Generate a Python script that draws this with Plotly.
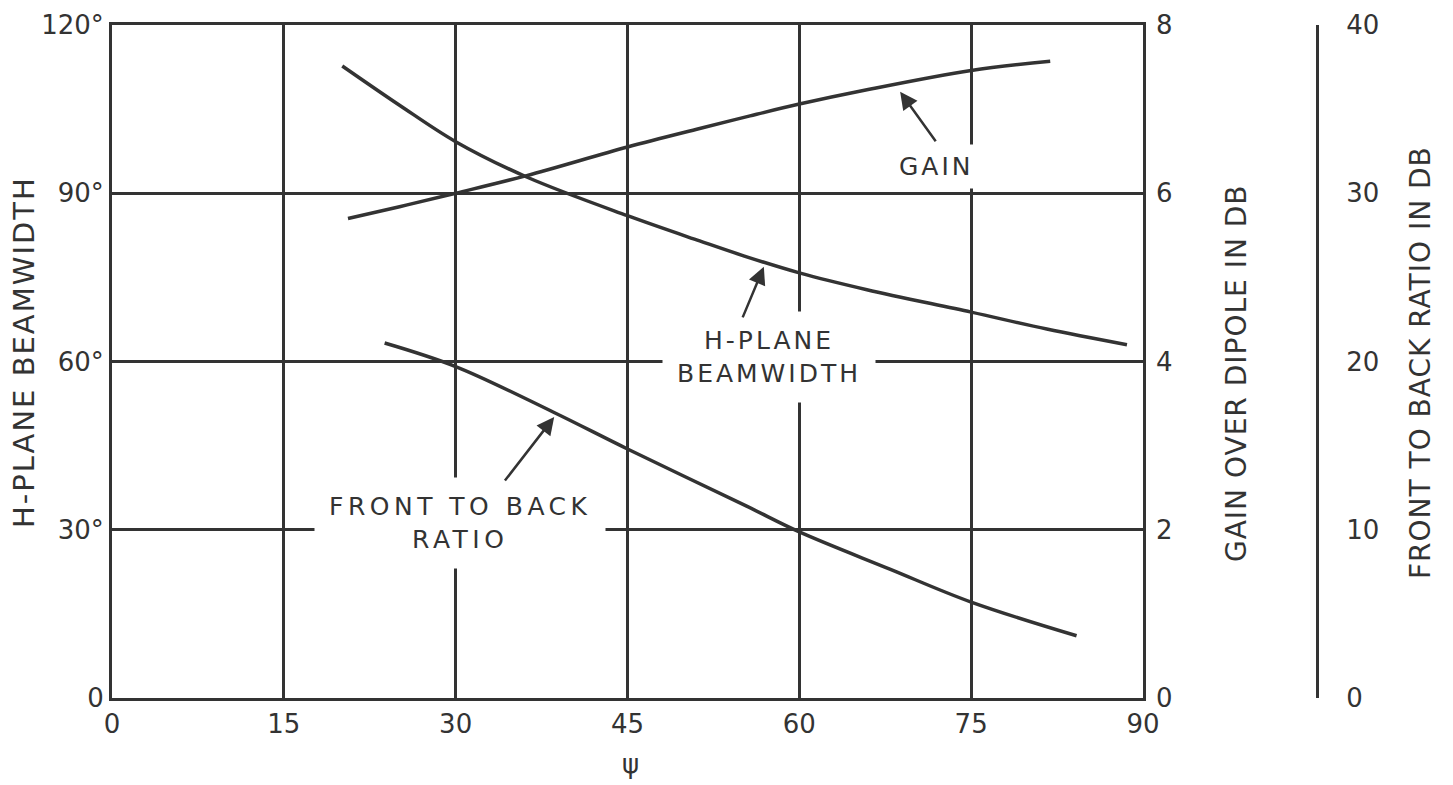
import plotly.graph_objects as go

# ---- data ----
psi_ticks = [0, 15, 30, 45, 60, 75, 90]
deg_ticks = [0, 30, 60, 90, 120]
deg_tick_text = ["0", "30°", "60°", "90°", "120°"]
gain_ticks = [0, 2, 4, 6, 8]
fb_ticks = [0, 10, 20, 30, 40]

psi_bw = [20.1, 25.1, 30.0, 36.2, 45.0, 51.3, 55.2, 60.0, 65.9, 75.0, 81.6, 88.6]
beamwidth = [112.7, 105.7, 99.2, 92.9, 86.0, 81.5, 78.8, 75.8, 72.8, 68.8, 65.8, 63.0]

psi_gain = [20.6, 25.1, 30.0, 36.2, 45.0, 51.3, 55.7, 60.0, 65.9, 75.0, 81.9]
gain_db = [5.70, 5.84, 6.00, 6.21, 6.55, 6.77, 6.92, 7.06, 7.23, 7.46, 7.57]

psi_fb = [23.8, 30.0, 38.5, 45.0, 55.4, 60.0, 67.9, 75.0, 84.2]
fb_db = [21.1, 19.7, 17.0, 14.8, 11.4, 9.87, 7.66, 5.7, 3.7]

INK = "#333333"
FONT = "DejaVu Sans"

def spaced(t, s):
    return '<span style="letter-spacing:%spx">%s</span>' % (s, t)

fig = go.Figure()
line = dict(color=INK, width=3.5, shape="spline", smoothing=1.0)
fig.add_trace(go.Scatter(x=psi_bw, y=beamwidth, mode="lines", line=line,
                         name="H-plane beamwidth", yaxis="y"))
fig.add_trace(go.Scatter(x=psi_gain, y=gain_db, mode="lines", line=line,
                         name="Gain", yaxis="y2"))
fig.add_trace(go.Scatter(x=psi_fb, y=fb_db, mode="lines", line=line,
                         name="Front to back ratio", yaxis="y3"))

OFF = 8  # page body margin
W, H = 1453 - OFF, 785 - OFF
ML, MR, MT, MB = 112 - OFF, 0, 25 - OFF, 87
PW = W - ML - MR
PH = H - MT - MB
x_dom_end = 1031 / PW
fb_pos = (1317 - OFF - ML) / PW

def px_x(p):
    return (p - OFF - ML) / PW

def px_y(p):
    return (H - MB - (p - OFF)) / PH

tickfont = dict(family=FONT, size=26, color=INK)

fig.update_layout(
    width=W, height=H,
    margin=dict(l=ML, r=MR, t=MT, b=MB, autoexpand=False),
    paper_bgcolor="white", plot_bgcolor="white",
    showlegend=False,
    font=dict(family=FONT, color=INK),
    xaxis=dict(domain=[0, x_dom_end], range=[0, 90], tickvals=psi_ticks,
               showgrid=True, gridcolor=INK, gridwidth=2.5,
               showline=True, mirror=True, linecolor=INK, linewidth=3,
               zeroline=False, ticks="", tickfont=tickfont, ticklabelstandoff=1,
               automargin=False),
    yaxis=dict(range=[0, 120], tickvals=deg_ticks, ticktext=deg_tick_text,
               showgrid=True, gridcolor=INK, gridwidth=2.5,
               showline=True, mirror=True, linecolor=INK, linewidth=3,
               zeroline=False, ticks="", tickfont=tickfont, ticklabelstandoff=0,
               automargin=False),
    yaxis2=dict(overlaying="y", side="right", anchor="x", range=[0, 8],
                tickvals=gain_ticks, showgrid=False, showline=False,
                zeroline=False, ticks="", tickfont=tickfont, ticklabelstandoff=12,
                automargin=False),
    yaxis3=dict(overlaying="y", side="right", anchor="free", position=fb_pos,
                range=[0, 40], tickvals=fb_ticks, showgrid=False,
                showline=True, linecolor=INK, linewidth=3,
                zeroline=False, ticks="", tickfont=tickfont, ticklabelstandoff=22,
                automargin=False),
)

ann = []
# axis titles
title_font = dict(family=FONT, size=28, color=INK)
ann.append(dict(text=spaced("H-PLANE BEAMWIDTH", 2), xref="paper", yref="paper",
                x=px_x(24), y=px_y(352), textangle=-90, showarrow=False,
                xanchor="center", yanchor="middle",
                font=dict(family=FONT, size=29, color=INK)))
ann.append(dict(text=spaced("GAIN OVER DIPOLE IN DB", 1), xref="paper", yref="paper",
                x=px_x(1237), y=px_y(373), textangle=-90, showarrow=False,
                xanchor="center", yanchor="middle", font=title_font))
ann.append(dict(text=spaced("FRONT TO BACK RATIO IN DB", 1), xref="paper", yref="paper",
                x=px_x(1420), y=px_y(363), textangle=-90, showarrow=False,
                xanchor="center", yanchor="middle", font=title_font))
ann.append(dict(text="ψ", xref="paper", yref="paper", x=px_x(630), y=px_y(764),
                xanchor="center", yanchor="middle",
                showarrow=False, font=dict(family=FONT, size=26, color=INK)))

# curve labels (white box interrupts the grid like the original)
lab_font = dict(family=FONT, size=25, color=INK)
ann.append(dict(text=spaced("GAIN", 3), x=72.0, y=94.7, xref="x", yref="y",
                xanchor="center", yanchor="middle",
                showarrow=False, bgcolor="white", borderpad=7, font=lab_font))
ann.append(dict(text=spaced("H-PLANE", 3) + "<br>" + spaced("BEAMWIDTH", 3),
                x=57.35, y=60.8, xref="x", yref="y", showarrow=False,
                xanchor="center", yanchor="middle",
                bgcolor="white", borderpad=14, font=lab_font))
ann.append(dict(text=spaced("FRONT TO BACK", 4.5) + "<br>" + spaced("RATIO", 4.5),
                x=30.4, y=31.2, xref="x", yref="y", showarrow=False,
                xanchor="center", yanchor="middle",
                bgcolor="white", borderpad=14, font=lab_font))

# arrows
arrow = dict(text="", showarrow=True, arrowhead=2, arrowsize=1.4, arrowwidth=2.5,
             arrowcolor=INK, xref="x", yref="y", axref="x", ayref="y", standoff=0)
ann.append(dict(arrow, x=68.8, y=108.1, ax=72.0, ay=99.0))
ann.append(dict(arrow, x=56.9, y=76.9, ax=55.0, ay=67.6))
ann.append(dict(arrow, x=38.6, y=50.1, ax=34.2, ay=38.5))

fig.update_layout(annotations=ann)
fig.write_html("out.html")
